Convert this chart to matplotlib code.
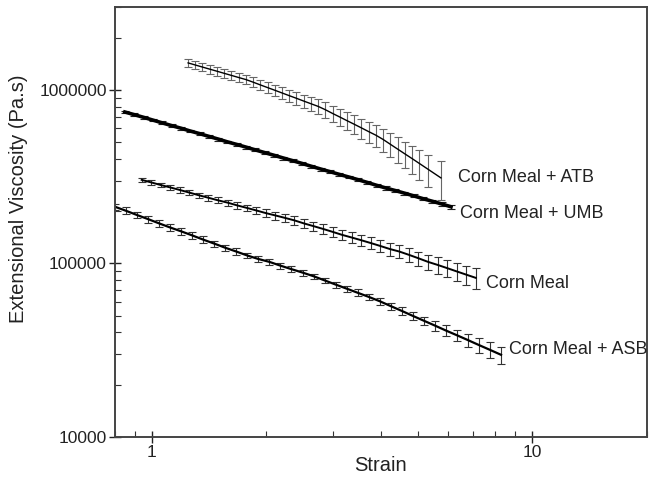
import matplotlib
matplotlib.use("Agg")

import numpy as np
import matplotlib.pyplot as plt
from matplotlib.ticker import LogLocator, NullFormatter, FixedLocator, FixedFormatter

plt.rcParams["font.family"] = ["Liberation Sans", "DejaVu Sans"]

# ---------------------------------------------------------------------------
# Data (viscosity and error in thousands of Pa.s)
# ---------------------------------------------------------------------------
atb_strain = [1.245, 1.300, 1.358, 1.419, 1.483, 1.549, 1.618, 1.690, 1.766,
              1.845, 1.928, 2.014, 2.104, 2.198, 2.296, 2.399, 2.506, 2.618,
              2.735, 2.858, 2.985, 3.119, 3.258, 3.404, 3.556, 3.715, 3.882,
              4.055, 4.236, 4.426, 4.624, 4.831, 5.047, 5.330, 5.754]
atb_visc = [1432, 1393, 1355, 1318, 1282, 1247, 1213, 1180, 1148,
            1109, 1069, 1032, 996, 961, 927, 895, 863, 833,
            804, 769, 732, 698, 665, 634, 604, 575, 548,
            518, 486, 456, 428, 402, 377, 348, 311]
atb_err = [80, 78, 77, 76, 75, 75, 74, 74, 73,
           73, 72, 72, 72, 73, 74, 75, 76, 77,
           78, 79, 80, 80, 80, 80, 80, 79, 79,
           78, 77, 76, 75, 74, 73, 73, 80]

umb_strain = [0.849, 0.899, 0.951, 1.006, 1.064, 1.126, 1.191, 1.260, 1.334,
              1.411, 1.493, 1.579, 1.671, 1.768, 1.871, 1.980, 2.094, 2.216,
              2.344, 2.480, 2.624, 2.777, 2.938, 3.108, 3.289, 3.479, 3.681,
              3.895, 4.121, 4.360, 4.613, 4.881, 5.164, 5.464, 5.781, 6.116]
umb_visc = [746, 720, 695, 670, 646, 623, 602, 580, 560,
            540, 521, 502, 485, 468, 451, 435, 420, 405,
            391, 377, 363, 350, 338, 326, 315, 304, 293,
            282, 272, 263, 254, 245, 236, 228, 220, 212]
umb_err = [14, 13, 13, 12, 12, 11, 11, 11, 10,
           10, 10, 9, 9, 9, 9, 8, 8, 8,
           8, 7, 7, 7, 7, 7, 6, 6, 6,
           6, 6, 6, 5, 5, 5, 5, 5, 5]

cm_strain = [0.940, 0.996, 1.055, 1.118, 1.184, 1.254, 1.329, 1.408, 1.492,
             1.581, 1.675, 1.775, 1.880, 1.992, 2.111, 2.236, 2.369, 2.510,
             2.659, 2.818, 2.985, 3.163, 3.351, 3.550, 3.761, 3.985, 4.222,
             4.473, 4.740, 5.022, 5.321, 5.637, 5.973, 6.328, 6.705, 7.104]
cm_visc = [303, 293, 283, 274, 265, 256, 247, 239, 231,
           224, 216, 209, 202, 195, 189, 183, 177, 170,
           164, 158, 152, 146, 141, 136, 131, 126, 121,
           117, 112, 107, 102, 98.0, 93.9, 89.9, 86.1, 82.5]
cm_err = [9, 9, 9, 9, 9, 9, 9, 9, 9,
          9, 9, 9, 10, 10, 10, 10, 10, 10,
          10, 10, 10, 10, 10, 10, 10, 10, 10,
          10, 10, 10, 10, 11, 11, 11, 11, 11]

asb_strain = [0.800, 0.855, 0.914, 0.977, 1.045, 1.117, 1.194, 1.276, 1.365,
              1.459, 1.560, 1.667, 1.782, 1.905, 2.037, 2.178, 2.328, 2.489,
              2.661, 2.844, 3.041, 3.251, 3.475, 3.715, 3.972, 4.246, 4.539,
              4.853, 5.188, 5.546, 5.929, 6.339, 6.776, 7.244, 7.745, 8.279]
asb_visc = [212, 201, 190, 180, 170, 161, 153, 145, 137,
            130, 123, 117, 111, 106, 102, 97.0, 92.6, 88.5,
            84.3, 79.8, 75.5, 71.5, 67.7, 64.1, 60.5, 56.7, 53.2,
            49.8, 46.7, 43.8, 41.0, 38.5, 36.1, 33.8, 31.7, 29.7]
asb_err = [9, 9, 8, 8, 8, 7, 7, 6, 6,
           5, 5, 5, 4, 4, 4, 4, 4, 3.5,
           3, 3, 3, 3, 3, 2.8, 2.6, 2.5, 2.5,
           2.5, 2.6, 2.8, 3.0, 3.0, 3.1, 3.2, 3.3, 3.3]

labels = ["Corn Meal + ATB", "Corn Meal + UMB", "Corn Meal", "Corn Meal + ASB"]
label_pos = [(6.36, 311e3), (6.47, 193e3), (7.57, 76.2e3), (8.71, 31.7e3)]

series = [
    (atb_strain, atb_visc, atb_err, "#666666", 1.0),
    (umb_strain, umb_visc, umb_err, "#222222", 2.6),
    (cm_strain, cm_visc, cm_err, "#333333", 1.4),
    (asb_strain, asb_visc, asb_err, "#333333", 1.6),
]

# ---------------------------------------------------------------------------
# Figure
# ---------------------------------------------------------------------------
fig = plt.figure(figsize=(6.5, 4.8), dpi=100)
ax = fig.add_axes([0.177, 0.090, 0.818, 0.895])

for x, y, e, ecol, lw in series:
    y = np.array(y) * 1000
    e = np.array(e) * 1000
    ax.errorbar(x, y, yerr=e, fmt="-", color="black", lw=lw,
                ecolor=ecol, elinewidth=0.8, capsize=3, capthick=0.8)

for text, (tx, ty) in zip(labels, label_pos):
    ax.text(tx, ty, text, fontsize=13, va="center", ha="left",
            color="#222222", clip_on=False)

ax.set_xscale("log")
ax.set_yscale("log")
ax.set_xlim(0.8, 20)
ax.set_ylim(1e4, 3e6)

ax.xaxis.set_major_locator(FixedLocator([1, 10]))
ax.xaxis.set_major_formatter(FixedFormatter(["1", "10"]))
ax.xaxis.set_minor_locator(LogLocator(base=10, subs=np.arange(2, 10)))
ax.xaxis.set_minor_formatter(NullFormatter())

ax.yaxis.set_major_locator(FixedLocator([1e4, 1e5, 1e6]))
ax.yaxis.set_major_formatter(FixedFormatter(["10000", "100000", "1000000"]))
ax.yaxis.set_minor_locator(LogLocator(base=10, subs=np.arange(2, 10)))
ax.yaxis.set_minor_formatter(NullFormatter())

ax.tick_params(which="major", direction="inout", length=8, width=1.0,
               labelsize=12.5, colors="#222222", pad=2)
ax.tick_params(which="minor", direction="in", length=4, width=0.8,
               colors="#333333")

for sp in ax.spines.values():
    sp.set_linewidth(1.4)
    sp.set_color("#444444")

ax.set_xlabel("Strain", fontsize=14.5, color="#222222")
ax.set_ylabel("Extensional Viscosity (Pa.s)", fontsize=14.5, color="#222222")
ax.xaxis.set_label_coords(0.5, -0.045)
ax.yaxis.set_label_coords(-0.163, 0.555)

fig.savefig("out.png", dpi=100, facecolor="white")
